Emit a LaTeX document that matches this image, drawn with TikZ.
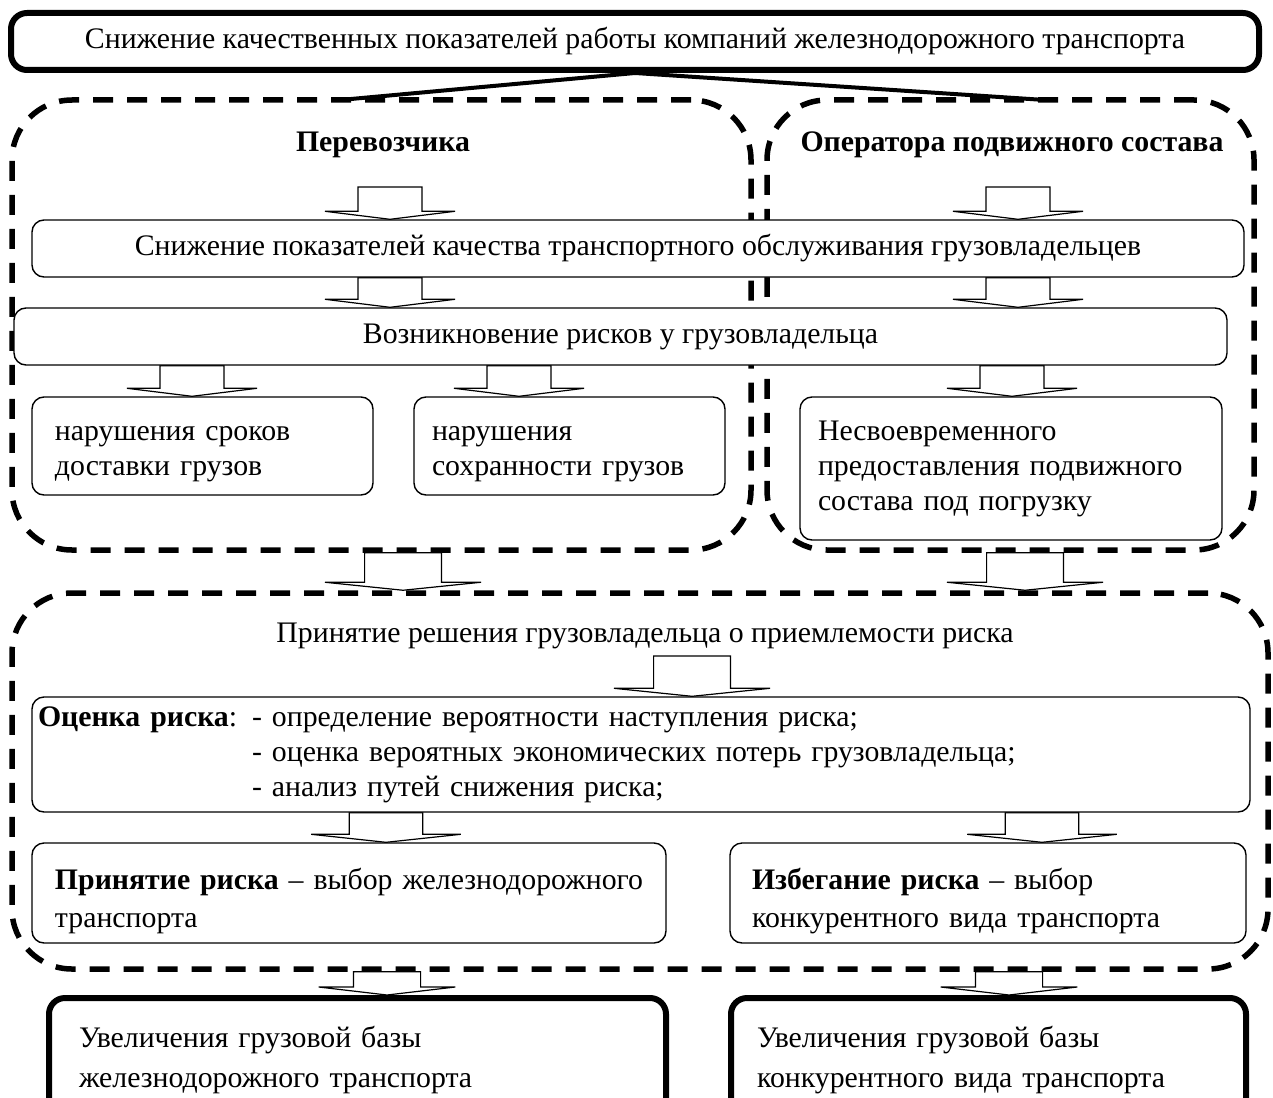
\documentclass[tikz,border=0pt]{standalone}
\usepackage{fontspec}
\setmainfont{Liberation Serif}
\usepackage{tikz}
\tikzset{>=latex}
\usetikzlibrary{calc,positioning,backgrounds}

\tikzset{
  box/.style={draw, fill=white, rounded corners=6pt, line width=0.7pt, inner sep=0pt},
  thickbox/.style={box, line width=3pt, rounded corners=8pt},
  dashbox/.style={draw, line width=2.75pt, dash pattern=on 10pt off 7pt, rounded corners=30pt, inner sep=0pt},
  leftbox/.style={align=left, inner xsep=3pt, execute at begin node={\leftskip=#1\relax}},
  blockarrow/.style={draw, fill=white, line width=0.6pt, line join=miter},
}

% hollow block arrow: [scale]{x}{from}{to}
\newcommand{\blockarrow}[4][1]{
  \coordinate (ba-s) at (#2,0 |- #3);
  \coordinate (ba-t) at (#2,0 |- #4);
  \draw[blockarrow] ([xshift=-#1*16pt]ba-s) -- ([xshift=#1*16pt]ba-s)
      -- ([xshift=#1*16pt,yshift=4pt]ba-t) -- ([xshift=#1*32.5pt,yshift=4pt]ba-t)
      -- (ba-t)
      -- ([xshift=-#1*32.5pt,yshift=4pt]ba-t) -- ([xshift=-#1*16pt,yshift=4pt]ba-t) -- cycle;
}

\begin{document}
\begin{tikzpicture}[x=0.5pt, y=-0.5pt, font=\fontsize{14.9}{17.5}\selectfont]
    \useasboundingbox (0,0) rectangle (1273,1097);
    \clip (0,0) rectangle (1273,1097);

    \node[thickbox, minimum width=624pt, minimum height=28.5pt] (top) at (635,41.5)
        {Снижение качественных показателей работы компаний железнодорожного транспорта};

    \draw[line width=2pt] (top.south) -- (340,0 |- 0,100);
    \draw[line width=2pt] (top.south) -- (1045,0 |- 0,100);

    \node[dashbox, minimum width=369.5pt, minimum height=225pt] (dl) at (381.5,325) {};
    \node[dashbox, minimum width=243.5pt, minimum height=225pt] (dr) at (1010.5,325) {};
    \node[dashbox, minimum width=628pt, minimum height=188pt] (db) at (640,781) {};

    \node[font=\fontsize{14.9}{17.5}\selectfont\bfseries] (hl) at (383,145) {Перевозчика};
    \node[font=\fontsize{14.9}{17.5}\selectfont\bfseries] (hr) at (1012,145) {Оператора подвижного состава};
    \coordinate (s1) at (0,187);

    \node[box, minimum width=606pt, minimum height=28.5pt] (b2) at (638,248.5)
        {Снижение показателей качества транспортного обслуживания грузовладельцев};
    \node[box, minimum width=606.5pt, minimum height=28.5pt] (b3) at (620.5,336.5)
        {Возникновение рисков у грузовладельца};

    \node[box, leftbox=8.5pt, text width=164.5pt, minimum height=49pt, text depth=12.5pt] (b4a) at (202.5,446)
        {нарушения сроков\\доставки грузов};
    \node[box, leftbox=6pt, text width=149.5pt, minimum height=49pt, text depth=12.5pt] (b4b) at (569.5,446)
        {нарушения\\сохранности грузов};
    \node[box, leftbox=6pt, text width=205pt, minimum height=71.5pt] (b4c) at (1011,468.5)
        {Несвоевременного\\предоставления подвижного\\состава под погрузку};

    \node (dec) at (645,636) {Принятие решения грузовладельца о приемлемости риска};
    \coordinate (s3) at (0,656);

    \node[box, leftbox=0pt, text width=603pt, minimum height=57.5pt] (b5) at (641,754.5)
        {\begin{tabular}{@{}l@{ }l@{}}
         \textbf{Оценка риска}: & - определение вероятности наступления риска;\\
         & - оценка вероятных экономических потерь грузовладельца;\\
         & - анализ путей снижения риска;
         \end{tabular}};

    \node[box, leftbox=8.5pt, text width=311pt, minimum height=50pt, text depth=14pt,
          font=\fontsize{14.9}{19}\selectfont] (b6a) at (349,893)
        {\textbf{Принятие риска} – выбор железнодорожного\\транспорта};
    \node[box, leftbox=8pt, text width=252pt, minimum height=50pt, text depth=14pt,
          font=\fontsize{14.9}{19}\selectfont] (b6b) at (988,893)
        {\textbf{Избегание риска} – выбор\\конкурентного вида транспорта};

    \node[thickbox, leftbox=12pt, text width=302.5pt, minimum height=62pt,
          font=\fontsize{14.9}{20}\selectfont] (b7a) at (357.5,1060)
        {Увеличения грузовой базы\\железнодорожного транспорта};
    \node[thickbox, leftbox=10pt, text width=251.5pt, minimum height=62pt,
          font=\fontsize{14.9}{20}\selectfont] (b7b) at (988.5,1060)
        {Увеличения грузовой базы\\конкурентного вида транспорта};

    \begin{pgfonlayer}{background}
        \blockarrow{390}{s1}{b2.north}
        \blockarrow{1018}{s1}{b2.north}
        \blockarrow{390}{b2.south}{b3.north}
        \blockarrow{1018}{b2.south}{b3.north}
        \blockarrow{192}{b3.south}{b4a.north}
        \blockarrow{519}{b3.south}{b4b.north}
        \blockarrow{1012}{b3.south}{b4c.north}
        \blockarrow[1.2]{403}{dl.south}{db.north}
        \blockarrow[1.2]{1025}{dr.south}{db.north}
        \blockarrow[1.2]{692}{s3}{b5.north}
        \blockarrow[1.15]{386}{b5.south}{b6a.north}
        \blockarrow[1.15]{1042}{b5.south}{b6b.north}
        \blockarrow[1.05]{387}{db.south}{b7a.north}
        \blockarrow[1.05]{1009}{db.south}{b7b.north}
    \end{pgfonlayer}

\end{tikzpicture}
\end{document}
